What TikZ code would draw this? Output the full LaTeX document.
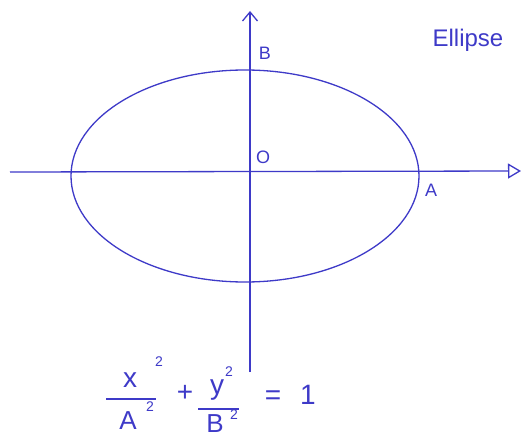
\documentclass[tikz,border=0pt]{standalone}
\usepackage{fontspec}
\setmainfont{Liberation Sans}
\usetikzlibrary{arrows.meta}
\definecolor{pen}{RGB}{62,58,200}
\begin{document}
\begin{tikzpicture}[x=1pt,y=-1pt,
  ink/.style={draw=pen,line width=1.3pt},
  lbl/.style={text=pen,font=\fontsize{18}{18}\selectfont,inner sep=0pt},
  big/.style={text=pen,font=\fontsize{28}{28}\selectfont,inner sep=0pt},
  den/.style={text=pen,font=\fontsize{26}{26}\selectfont,inner sep=0pt},
  sup/.style={text=pen,font=\fontsize{14}{14}\selectfont,inner sep=0pt}]
\useasboundingbox[fill=white] (0,0) rectangle (528,441);
% axes
\coordinate (xl) at (10,172);
\coordinate (xr) at (521,171);
\coordinate (yb) at (250,372);
\coordinate (yt) at (250,11);
\coordinate (O) at (250,171);
\draw[ink,-{Triangle[open,length=13pt,width=15pt]}] (xl) -- (xr);
\draw[ink,-{Straight Barb[length=9pt,width=15pt]}] (yb) -- (yt);
% ellipse
\draw[ink] (245,176) ellipse[x radius=174,y radius=106];
% labels
\node[lbl] (B) at (265,53) {B};
\node[lbl] (o) at (263,157) {O};
\node[lbl] (A) at (431,190) {A};
\node[lbl,font=\fontsize{24}{24}\selectfont] (title) at (468,40) {Ellipse};
% equation
\node[big] (x) at (130,380) {x};
\node[sup] (x2) at (159,362) {2};
\coordinate (f1l) at (106,399);
\coordinate (f1r) at (156,399);
\draw[ink] (f1l) -- (f1r);
\node[den] (Aden) at (128,421) {A};
\node[sup] (A2) at (150,407) {2};
\node[big] (plus) at (185,393) {+};
\node[big] (y) at (217,390) {y};
\node[sup] (y2) at (229,372) {2};
\coordinate (f2l) at (198,409);
\coordinate (f2r) at (239,409);
\draw[ink] (f2l) -- (f2r);
\node[den] (Bden) at (215,424) {B};
\node[sup] (B2) at (234,415) {2};
\node[big] (eq) at (273,398) {=};
\node[big] (one) at (308,395) {1};
\end{tikzpicture}
\end{document}
